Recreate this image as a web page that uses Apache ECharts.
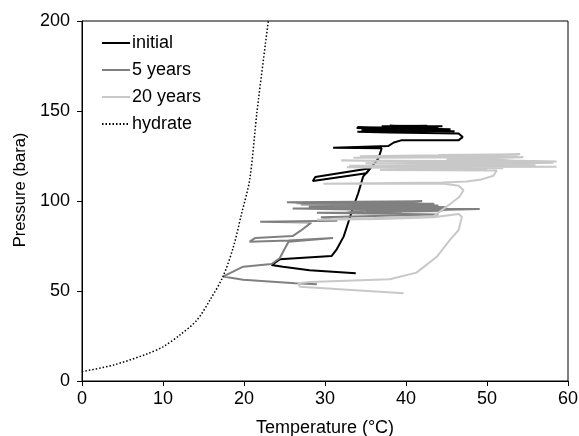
<!DOCTYPE html>
<html>
<head>
<meta charset="utf-8">
<script src="https://cdn.jsdelivr.net/npm/echarts@6/dist/echarts.min.js"></script>
<style>
html,body{margin:0;padding:0;background:#fff;}
#chart{width:579px;height:436px;}
</style>
</head>
<body>
<div id="chart"></div>
<script>
// Tick labels
const xTicks = [0, 10, 20, 30, 40, 50, 60];
const yTicks = [0, 50, 100, 150, 200];

// initial (temperature °C, pressure bara)
const initialT = [33.8, 28.1, 24.8, 23.4, 24.4, 30.8, 31.4, 32.3, 32.7, 33.5, 34.1, 34.7, 35.6, 28.8, 28.5, 35.1, 36.6, 37.0, 31.0, 31.2, 37.8, 38.5, 39.5, 46.5, 47.0, 46.5, 38.0, 34.0, 45.0, 33.9, 44.0, 37.0, 42.5, 43.5, 34.5, 46.0, 35.5, 45.5, 34.0, 43.0, 38.0, 44.5];
const initialP = [59.8, 61.5, 63.5, 64.4, 67.6, 69.4, 72.8, 80.2, 85.7, 96.8, 104.3, 113.5, 118.2, 113.3, 111.1, 115.4, 123.7, 129.3, 129.6, 130.2, 130.5, 132.5, 133.8, 133.8, 135.5, 137.5, 138.0, 138.5, 139.2, 140.5, 141.0, 141.5, 141.8, 140.0, 139.5, 138.8, 140.0, 139.8, 141.0, 140.5, 141.8, 141.5];

// 5 years
const y5T = [29.0, 26.3, 19.9, 17.4, 19.9, 23.4, 24.4, 25.5, 31.0, 25.5, 20.7, 21.4, 26.0, 27.0, 28.3, 22.0, 31.5, 29.5, 44.0, 29.0, 44.5, 26.0, 45.0, 25.3, 42.0, 27.0, 44.0, 30.0, 49.1, 35.0, 44.5, 28.0, 43.5, 26.5, 41.5, 32.6, 39.5];
const y5P = [53.7, 54.3, 56.2, 58.0, 63.5, 65.0, 68.2, 77.4, 79.5, 78.0, 77.4, 79.5, 80.5, 83.5, 88.0, 88.5, 89.0, 91.0, 92.5, 93.5, 94.5, 95.8, 96.5, 99.3, 99.8, 98.0, 97.5, 96.0, 95.5, 94.0, 95.0, 97.0, 98.5, 98.8, 99.4, 93.5, 93.3];

// 20 years
const y20T = [39.7, 26.9, 26.7, 28.1, 38.0, 41.3, 43.8, 45.4, 46.5, 46.9, 46.5, 43.4, 37.0, 29.0, 36.0, 43.4, 44.3, 45.5, 46.6, 47.1, 46.5, 44.5, 29.8, 44.5, 47.5, 49.3, 50.8, 51.2, 36.8, 50.0, 32.7, 58.6, 40.0, 58.2, 32.0, 58.6, 45.0, 54.5, 33.5, 53.8, 34.3, 54.1, 44.0, 55.0, 35.0, 56.0, 33.0, 52.0];
const y20P = [48.7, 52.4, 54.3, 55.0, 56.5, 60.2, 69.0, 78.3, 83.9, 91.3, 92.8, 91.0, 90.0, 89.6, 90.5, 91.5, 94.5, 98.5, 102.4, 106.0, 108.5, 109.7, 109.6, 110.3, 110.8, 112.0, 114.0, 116.9, 117.2, 117.6, 118.8, 119.0, 119.8, 121.2, 122.5, 122.0, 123.2, 124.3, 124.0, 125.2, 124.8, 126.0, 125.6, 121.8, 121.0, 120.2, 119.6, 118.2];

// hydrate curve
const hydrateT = [0, 3.9, 8.0, 10.0, 12.1, 14.2, 15.8, 17.4, 18.7, 19.7, 20.7, 21.6, 23.0];
const hydrateP = [5.2, 8.9, 15.0, 19.0, 25.6, 33.9, 45.0, 58.0, 74.6, 93.0, 111.7, 149.4, 200.0];

const zip = (a, b) => a.map((v, i) => [v, b[i]]);
const FONT = 'Liberation Sans';

const chart = echarts.init(document.getElementById('chart'), null, {renderer: 'canvas'});
chart.setOption({
  animation: false,
  backgroundColor: '#fff',
  textStyle: {fontFamily: FONT},
  grid: {left: 82, right: 11, top: 21, bottom: 55, show: true, borderColor: '#000', borderWidth: 1,
         containLabel: false, outerBoundsMode: 'none'},
  legend: {
    orient: 'vertical', left: 101, top: 34, padding: 0, itemWidth: 28, itemHeight: 14, itemGap: 9,
    itemStyle: {color: 'transparent', borderWidth: 0, opacity: 0},
    textStyle: {fontFamily: FONT, fontSize: 18, color: '#000', padding: [0,0,0,-3]},
    data: ['initial', '5 years', '20 years', 'hydrate']
  },
  xAxis: {
    type: 'value', min: xTicks[0], max: xTicks[xTicks.length-1], interval: 10,
    name: 'Temperature (°C)', nameLocation: 'middle', nameGap: 38,
    nameTextStyle: {fontFamily: FONT, fontSize: 18, color: '#000'},
    axisLine: {show: true, lineStyle: {color: '#000', width: 1}},
    axisTick: {show: true, inside: false, length: 5, lineStyle: {color: '#000'}},
    axisLabel: {fontFamily: FONT, fontSize: 18, color: '#000', margin: 9},
    splitLine: {show: false}
  },
  yAxis: {
    type: 'value', min: yTicks[0], max: yTicks[yTicks.length-1], interval: 50,
    name: 'Pressure (bara)', nameLocation: 'middle', nameGap: 51, nameRotate: 90,
    nameTextStyle: {fontFamily: FONT, fontSize: 16.5, color: '#000', padding: [0, 0, 0, 22]},
    axisLine: {show: true, lineStyle: {color: '#000', width: 1}},
    axisTick: {show: true, inside: false, length: 5, lineStyle: {color: '#000'}},
    axisLabel: {fontFamily: FONT, fontSize: 18, color: '#000', margin: 12},
    splitLine: {show: false}
  },
  series: [
    {name: 'initial', type: 'line', data: zip(initialT, initialP), showSymbol: false, symbol: 'none', clip: true,
     lineStyle: {color: '#000', width: 2}, itemStyle: {color: '#000'}},
    {name: '5 years', type: 'line', data: zip(y5T, y5P), showSymbol: false, symbol: 'none', clip: true,
     lineStyle: {color: '#808080', width: 2}, itemStyle: {color: '#808080'}},
    {name: '20 years', type: 'line', data: zip(y20T, y20P), showSymbol: false, symbol: 'none', clip: true,
     lineStyle: {color: '#c8c8c8', width: 2}, itemStyle: {color: '#c8c8c8'}},
    {name: 'hydrate', type: 'line', data: zip(hydrateT, hydrateP), showSymbol: false, symbol: 'none', clip: true, smooth: 0.3,
     lineStyle: {color: '#000', width: 1.5, type: [1.5, 2]}, itemStyle: {color: '#000'}}
  ]
});
</script>
</body>
</html>
